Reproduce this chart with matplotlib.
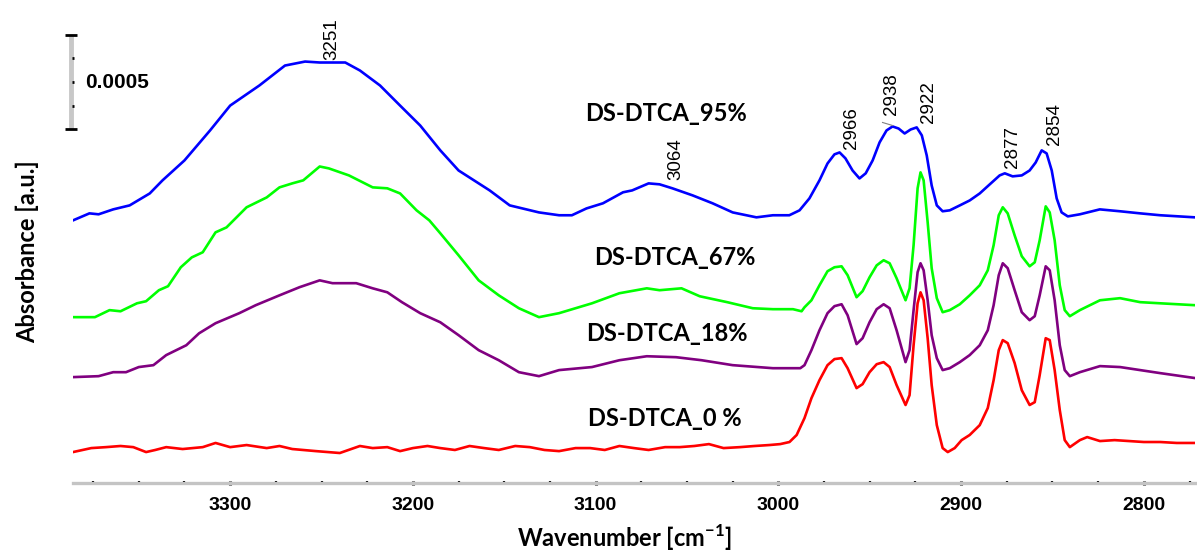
#!/usr/bin/env python3
"""Stacked FTIR spectra (C-H / O-H region) for DS-DTCA samples."""

import matplotlib
matplotlib.use("Agg")
import matplotlib.pyplot as plt
from matplotlib.ticker import MultipleLocator
from matplotlib.transforms import blended_transform_factory

# Offset absorbance in units of 1e-4 (scale bar = 0.0005 = 5 units)
wn_95 = [3386, 3377, 3372, 3364, 3355, 3344, 3337, 3325, 3311, 3300, 3284, 3270,
         3259, 3251, 3237, 3229, 3218, 3207, 3196, 3185, 3175, 3158, 3147, 3131,
         3120, 3113, 3105, 3096, 3085, 3080, 3071, 3065, 3058, 3047, 3036, 3025,
         3012, 3003, 2994, 2988.4, 2983, 2977.5, 2973.1, 2969.3, 2966.5, 2963.3,
         2959.4, 2955.6, 2952.2, 2948.4, 2944.6, 2940.8, 2937.5, 2934.2, 2930.9,
         2927.6, 2924.3, 2921.5, 2918.8, 2916.1, 2913.3, 2910.1, 2906.2, 2900.7,
         2895.3, 2889.8, 2884.3, 2878.9, 2876.1, 2871.8, 2866.8, 2862.5, 2859.2,
         2855.9, 2853.2, 2850.4, 2847.7, 2845, 2841.6, 2835, 2824.1, 2813, 2802,
         2791, 2772]
abs_95 = [13.84, 14.21, 14.16, 14.42, 14.63, 15.26, 15.95, 17.0, 18.58, 19.89, 20.95, 22.0,
          22.21, 22.16, 22.16, 21.74, 20.95, 19.89, 18.84, 17.53, 16.47, 15.42, 14.63, 14.26,
          14.11, 14.11, 14.47, 14.74, 15.32, 15.42, 15.79, 15.74, 15.53, 15.16, 14.74, 14.26,
          14.0, 14.11, 14.11, 14.37, 15.0, 15.95, 16.84, 17.32, 17.42, 17.11,
          16.47, 16.05, 16.32, 17.0, 17.95, 18.58, 18.79, 18.68, 18.42,
          18.63, 18.74, 18.32, 17.26, 15.68, 14.63, 14.32, 14.37, 14.63,
          14.89, 15.26, 15.74, 16.21, 16.32, 16.16, 16.21, 16.47, 16.89,
          17.53, 17.37, 16.47, 15.0, 14.26, 14.05, 14.16, 14.42, 14.32, 14.21,
          14.11, 14.0]

wn_67 = [3386, 3374, 3366, 3360, 3351, 3346, 3339, 3334, 3327, 3321, 3315, 3308,
         3302, 3291, 3280, 3273, 3266, 3260, 3251, 3246, 3235, 3222, 3214, 3207,
         3198, 3191, 3185, 3175, 3164, 3153, 3142, 3131, 3120, 3102, 3087, 3072,
         3065, 3053, 3043, 3028, 3014, 3003, 2992, 2987.3, 2985.7, 2981.9, 2977.5,
         2973.1, 2969.3, 2965.4, 2962.1, 2957.2, 2953.9, 2950.1, 2946.2, 2942.4,
         2939.1, 2935.3, 2930.4, 2928.2, 2926, 2923.8, 2922.2, 2920.5, 2918.3,
         2916.1, 2913.3, 2910.1, 2906.2, 2900.7, 2895.3, 2889.8, 2885.4, 2882.2,
         2879.4, 2877.2, 2874.5, 2870.7, 2866.8, 2862.5, 2859.7, 2857, 2853.7,
         2851.5, 2848.8, 2846, 2843.3, 2840.5, 2835, 2824, 2813, 2802, 2791, 2772]
abs_67 = [8.74, 8.74, 9.11, 9.05, 9.47, 9.58, 10.16, 10.37, 11.37, 11.89, 12.16, 13.21,
          13.47, 14.53, 15.05, 15.58, 15.79, 15.95, 16.68, 16.58, 16.21, 15.58, 15.53, 15.26,
          14.37, 13.84, 13.16, 12.0, 10.68, 9.89, 9.21, 8.74, 8.95, 9.47, 10.0, 10.26,
          10.16, 10.26, 9.84, 9.53, 9.21, 9.16, 9.16, 9.05, 9.26, 9.63, 10.42,
          11.16, 11.37, 11.42, 10.95, 9.79, 10.11, 10.84, 11.47, 11.74,
          11.58, 10.79, 9.63, 10.26, 12.53, 15.53, 16.37, 15.95, 13.74,
          11.32, 9.74, 9.0, 9.11, 9.42, 9.89, 10.42, 11.21, 12.53,
          14.11, 14.53, 14.21, 13.05, 11.95, 11.42, 11.63, 12.79, 14.58,
          14.26, 12.79, 10.42, 9.11, 8.79, 9.11, 9.63, 9.74, 9.53, 9.47, 9.37]

wn_18 = [3386, 3372, 3364, 3357, 3350, 3342, 3335, 3324, 3317, 3308, 3295, 3286,
         3273, 3262, 3251, 3244, 3231, 3222, 3214, 3206, 3196, 3185, 3175, 3164,
         3153, 3142, 3131, 3120, 3102, 3087, 3072, 3056, 3042, 3025, 3003, 2988,
         2985.7, 2981.9, 2977.5, 2973.1, 2969.3, 2965.4, 2962.1, 2957.2, 2953.9,
         2950.1, 2946.2, 2942.4, 2939.1, 2935.3, 2930.4, 2928.2, 2926, 2923.8,
         2922.2, 2920.5, 2918.3, 2916.1, 2913.3, 2910.1, 2906.2, 2900.7, 2895.3,
         2889.8, 2885.4, 2882.2, 2879.4, 2877.2, 2874.5, 2870.7, 2866.8, 2862.5,
         2859.7, 2857, 2853.7, 2851.5, 2848.8, 2846, 2843.3, 2840.5, 2835, 2824,
         2813, 2802, 2791, 2772]
abs_18 = [5.58, 5.63, 5.84, 5.84, 6.11, 6.21, 6.74, 7.26, 7.89, 8.42, 8.95, 9.37,
          9.89, 10.32, 10.68, 10.53, 10.53, 10.26, 10.05, 9.53, 8.95, 8.47, 7.79, 7.0,
          6.47, 5.84, 5.63, 5.95, 6.11, 6.47, 6.68, 6.63, 6.47, 6.21, 6.05, 6.05,
          6.21, 7.0, 8.05, 8.95, 9.32, 9.42, 8.84, 7.32, 7.63,
          8.47, 9.16, 9.42, 9.21, 8.05, 6.37, 7.0, 9.11, 11.11,
          11.58, 11.21, 9.63, 7.79, 6.58, 5.95, 6.05, 6.37, 6.74,
          7.26, 8.05, 9.37, 10.95, 11.58, 11.32, 10.16, 9.0, 8.58,
          8.79, 9.89, 11.42, 11.21, 9.63, 7.26, 5.95, 5.63, 5.84, 6.16,
          6.11, 5.95, 5.79, 5.53]

wn_0 = [3386, 3376, 3368, 3360, 3353, 3346, 3341, 3335, 3326, 3315, 3308, 3300,
        3291, 3280, 3273, 3266, 3253, 3240, 3229, 3222, 3214, 3207, 3200, 3192,
        3185, 3177, 3169, 3161, 3153, 3144, 3136, 3128, 3120, 3111, 3103, 3095,
        3087, 3079, 3071, 3062, 3054, 3046, 3038, 3030, 3021, 3013, 3005, 2999,
        2993.9, 2990, 2985.7, 2981.9, 2977.5, 2973.1, 2969.3, 2965.4, 2962.1,
        2957.2, 2953.9, 2950.1, 2946.2, 2942.4, 2939.1, 2935.3, 2930.4, 2928.2,
        2926, 2923.8, 2922.2, 2920.5, 2918.3, 2916.1, 2913.3, 2910.1, 2907.3,
        2903.5, 2899.7, 2895.3, 2889.8, 2885.4, 2882.2, 2879.4, 2877.2, 2874.5,
        2870.7, 2866.8, 2862.5, 2859.7, 2857, 2853.7, 2851.5, 2848.8, 2846,
        2843.3, 2840.5, 2835, 2831, 2824, 2816, 2808, 2800, 2791, 2782, 2772]
abs_0 = [1.63, 1.84, 1.89, 1.95, 1.89, 1.63, 1.74, 1.89, 1.79, 1.89, 2.11, 1.89,
         2.0, 1.84, 1.95, 1.79, 1.68, 1.58, 1.95, 1.84, 1.89, 1.68, 1.84, 1.95,
         1.84, 1.74, 1.95, 1.84, 1.74, 1.95, 1.89, 1.74, 1.68, 1.84, 1.84, 1.74,
         1.95, 1.84, 1.74, 1.89, 1.89, 1.95, 2.05, 1.84, 1.89, 1.95, 2.0, 2.05,
         2.16, 2.53, 3.42, 4.47, 5.42, 6.21, 6.53, 6.58, 6.05,
         5.0, 5.21, 5.84, 6.26, 6.37, 6.11, 5.16, 4.11, 4.63,
         7.26, 9.47, 10.05, 9.63, 7.63, 5.16, 3.05, 1.84, 1.63,
         1.84, 2.26, 2.53, 3.05, 3.95, 5.42, 7.0, 7.53, 7.37,
         6.32, 4.89, 4.11, 4.26, 5.68, 7.63, 7.53, 5.95, 3.84,
         2.26, 1.89, 2.26, 2.42, 2.21, 2.26, 2.21, 2.16, 2.16, 2.11, 2.11]

series_names = ["DS-DTCA_95%", "DS-DTCA_67%", "DS-DTCA_18%", "DS-DTCA_0 %"]
series_colors = ["#0000ff", "#00ff00", "#800080", "#ff0000"]

peak_labels = ["3251", "3064", "2966", "2938", "2922", "2877", "2854"]
x_ticks = [3300, 3200, 3100, 3000, 2900, 2800]

SCALE_BAR = 5.0  # 0.0005 in 1e-4 units

W, H = 1197, 551
fig = plt.figure(figsize=(W / 100, H / 100), dpi=100)
ax = fig.add_axes([73 / W, 68 / H, 1122 / W, 463 / H])

data = [(wn_95, abs_95), (wn_67, abs_67), (wn_18, abs_18), (wn_0, abs_0)]
for (wn, a), color in zip(data, series_colors):
    ax.plot(wn, a, color=color, lw=1.9, solid_joinstyle="round")

ax.set_xlim(3386, 2772)
ax.set_ylim(0, 24.4)

for s in ("left", "right", "top"):
    ax.spines[s].set_visible(False)
ax.spines["bottom"].set_color("#c4c4c4")
ax.spines["bottom"].set_linewidth(2.4)
ax.set_yticks([])
ax.set_xticks(x_ticks)
ax.xaxis.set_minor_locator(MultipleLocator(25))
ax.tick_params(axis="x", which="major", direction="inout", length=3.5, width=2.2,
               color="black", pad=8)
ax.tick_params(axis="x", which="minor", direction="inout", length=2.5, width=1.6,
               color="black")
for lbl in ax.get_xticklabels():
    lbl.set_fontfamily("Liberation Sans")
    lbl.set_fontweight("bold")
    lbl.set_fontsize(14)

# series names
name_pos = [(3061.7, 19.47), (3056.8, 11.89), (3061.2, 7.89), (3062.2, 3.42)]
for name, (x, y) in zip(series_names, name_pos):
    ax.text(x, y, name, family="Lato", weight="bold", fontsize=17,
            ha="center", va="center")

# peak annotations
peak_pos = [(3244.5, 23.4), (3056, 17.05), (2960, 18.71), (2938, 20.47),
            (2918, 20.08), (2872, 17.71), (2849, 18.92)]
for txt, (x, y) in zip(peak_labels, peak_pos):
    ax.text(x, y, txt, family="Liberation Sans", fontsize=13.5, rotation=90,
            ha="center", va="center", clip_on=False)
ax.plot([2943, 2937.5], [19.0, 18.84], color="#808080", lw=0.8)

# scale bar
tr = blended_transform_factory(ax.transAxes, ax.transData)
bar_x = -2 / 1122
bar_lo = 18.63
ax.plot([bar_x, bar_x], [bar_lo, bar_lo + SCALE_BAR], transform=tr,
        color="#c8c8c8", lw=3.5, clip_on=False, solid_capstyle="butt")
for i in range(5):
    yy = bar_lo + i * SCALE_BAR / 4
    if i in (0, 4):
        ax.plot([bar_x - 6 / 1122, bar_x + 6 / 1122], [yy, yy], transform=tr,
                color="black", lw=2, clip_on=False, solid_capstyle="butt")
    else:
        ax.plot([bar_x + 1 / 1122, bar_x + 3 / 1122], [yy, yy], transform=tr,
                color="black", lw=2, clip_on=False, solid_capstyle="butt")
ax.text(bar_x + 14 / 1122, bar_lo + SCALE_BAR / 2, "0.0005", transform=tr,
        family="Liberation Sans", weight="bold", fontsize=15, va="center", ha="left")

plt.rcParams["mathtext.fontset"] = "custom"
plt.rcParams["mathtext.bf"] = "Lato:bold"
plt.rcParams["mathtext.rm"] = "Lato:bold"
fig.text(625 / W, 1 - 538 / H, r"Wavenumber [cm$^{\mathbf{-1}}$]", family="Lato",
         weight="bold", fontsize=17, ha="center", va="center")
fig.text(27 / W, 1 - 252 / H, "Absorbance [a.u.]", family="Lato", weight="bold",
         fontsize=17, ha="center", va="center", rotation=90)

fig.savefig("out.png", dpi=100)
